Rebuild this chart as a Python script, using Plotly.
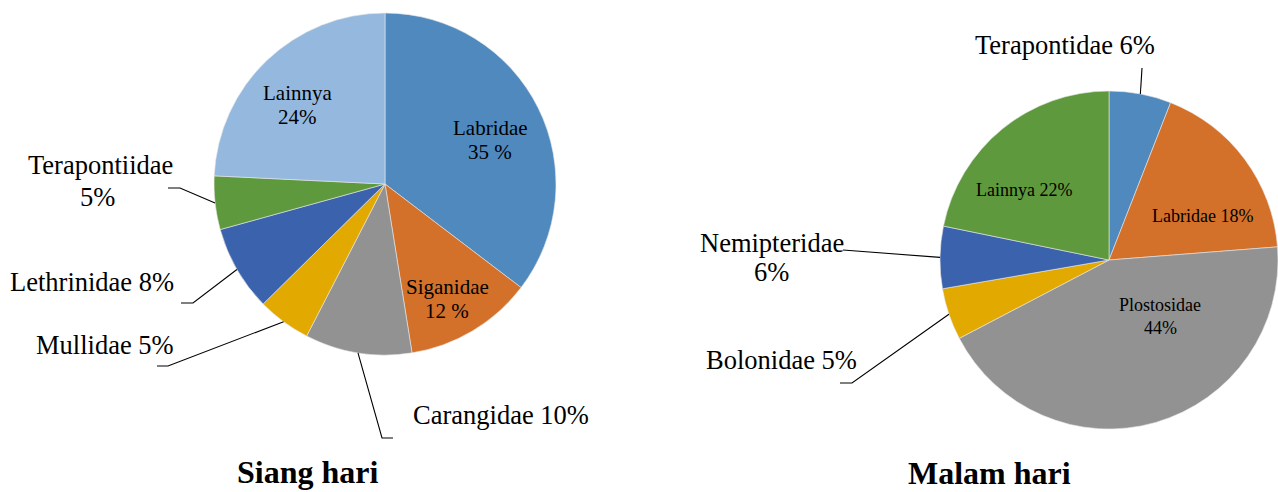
import math
import plotly.graph_objects as go

# ---------------- data ----------------
left_labels = ["Labridae", "Siganidae", "Carangidae", "Mullidae", "Lethrinidae", "Terapontiidae", "Lainnya"]
left_values = [35, 12, 10, 5, 8, 5, 24]
left_text = [["Labridae", "35 %"], ["Siganidae", "12 %"], ["Carangidae 10%"], ["Mullidae 5%"],
             ["Lethrinidae 8%"], ["Terapontiidae", "5%"], ["Lainnya", "24%"]]

right_labels = ["Terapontidae", "Labridae", "Plostosidae", "Bolonidae", "Nemipteridae", "Lainnya"]
right_values = [6, 18, 44, 5, 6, 22]
right_text = [["Terapontidae 6%"], ["Labridae 18%"], ["Plostosidae", "44%"], ["Bolonidae 5%"],
              ["Nemipteridae", "6%"], ["Lainnya 22%"]]

titles = ["Siang hari", "Malam hari"]

# ---------------- styling / layout ----------------
W, H = 1278, 492
FONT = "Liberation Serif"
left_colors = ["#4F89BD", "#D3702A", "#929292", "#E2A900", "#3B63AD", "#5F993D", "#95B8DF"]
right_colors = ["#4F89BD", "#D3702A", "#929292", "#E2A900", "#3B63AD", "#5F993D"]

L_C, L_R = (385, 184), 171
R_C, R_R = (1109, 260), 169


def px(x):
    return x / W


def py(y):
    return 1 - y / H


def domain(c, r):
    return dict(x=[max(0, px(c[0] - r)), min(1, px(c[0] + r))], y=[py(c[1] + r), py(c[1] - r)])


OUT = 26.5
# label placement (pixel positions of each text line, font size)
left_pos = [[(490, 128), (490, 152)], [(447, 287), (447, 311)], [(501, 415)], [(105, 345)],
            [(92, 282)], [(100, 165), (97, 197)], [(297, 93), (297, 117)]]
left_size = [21, 21, OUT, OUT, OUT, OUT, 21]
right_pos = [[(1065, 45)], [(1202, 216)], [(1160, 305), (1160, 328)], [(781, 360)],
             [(772, 243), (772, 272)], [(1024, 190)]]
right_size = [OUT, 18, 18, OUT, OUT, 18]

# leader lines: slice index -> further polyline points after rim point
left_leaders = {2: [(382, 438), (393, 438)], 3: [(168, 366), (157, 366)],
                4: [(193, 303), (181, 303)], 5: [(180, 188), (168, 188)]}
right_leaders = {0: [(1142, 68)], 3: [(852, 383), (840, 383)], 4: [(843, 250)]}

fig = go.Figure()
fig.add_trace(go.Pie(labels=left_labels, values=left_values, sort=False, direction="clockwise",
                     rotation=0, textinfo="none", hoverinfo="label+percent",
                     marker=dict(colors=left_colors, line=dict(color="#E8E8E8", width=0.6)),
                     domain=domain(L_C, L_R), showlegend=False))
fig.add_trace(go.Pie(labels=right_labels, values=right_values, sort=False, direction="clockwise",
                     rotation=0, textinfo="none", hoverinfo="label+percent",
                     marker=dict(colors=right_colors, line=dict(color="#E8E8E8", width=0.6)),
                     domain=domain(R_C, R_R), showlegend=False))

annotations = []
shapes = []


def add_labels(texts, positions, sizes):
    for lines, pos, s in zip(texts, positions, sizes):
        for t, (x, y) in zip(lines, pos):
            annotations.append(dict(text=t, x=px(x), y=py(y), xref="paper", yref="paper",
                                    xanchor="center", yanchor="middle", showarrow=False,
                                    font=dict(family=FONT, size=s, color="#000000")))


def add_leaders(values, center, r, leaders):
    total = sum(values)
    cum = 0
    for i, v in enumerate(values):
        mid = (cum + v / 2) / total
        cum += v
        if i not in leaders:
            continue
        th = 2 * math.pi * mid
        pts = [(center[0] + r * math.sin(th), center[1] - r * math.cos(th))] + leaders[i]
        path = "M " + " L ".join(f"{px(x):.5f},{py(y):.5f}" for x, y in pts)
        shapes.append(dict(type="path", path=path, xref="paper", yref="paper",
                           line=dict(color="#000000", width=1.1)))


add_labels(left_text, left_pos, left_size)
add_labels(right_text, right_pos, right_size)
add_leaders(left_values, L_C, L_R, left_leaders)
add_leaders(right_values, R_C, R_R, right_leaders)

for t, (x, y) in zip(titles, [(307, 472), (989, 473)]):
    annotations.append(dict(text=f"<b>{t}</b>", x=px(x), y=py(y), xref="paper", yref="paper",
                            xanchor="center", yanchor="middle", showarrow=False,
                            font=dict(family=FONT, size=32, color="#000000")))

fig.update_layout(width=W, height=H, margin=dict(l=0, r=0, t=0, b=0),
                  paper_bgcolor="#FFFFFF", plot_bgcolor="#FFFFFF",
                  annotations=annotations, shapes=shapes)
fig.write_html("out.html", config={"displayModeBar": False},
               post_script="document.body.style.margin='0';document.body.style.overflow='hidden';")
